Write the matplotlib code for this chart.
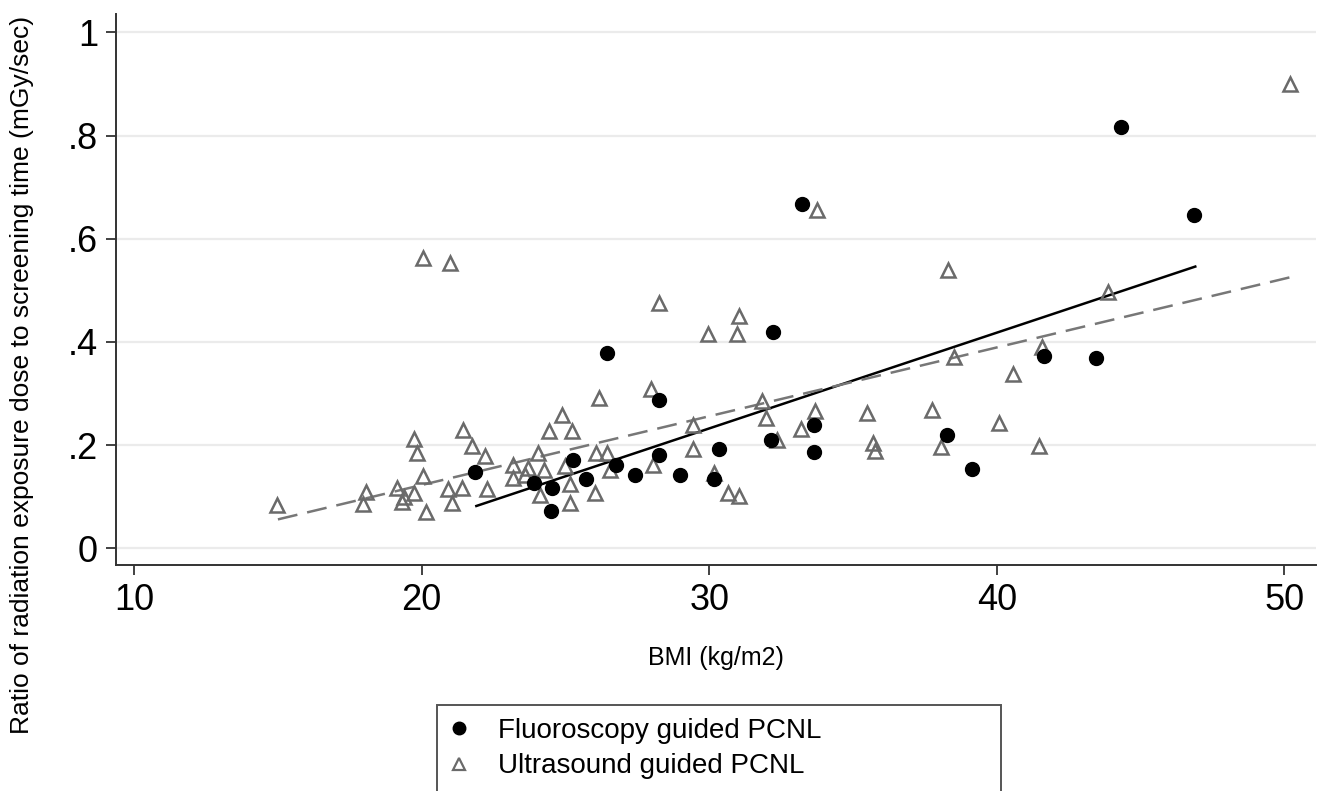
import matplotlib
matplotlib.use("Agg")
import matplotlib.pyplot as plt
from matplotlib.patches import Rectangle
from matplotlib.lines import Line2D

plt.rcParams['font.family'] = ['Liberation Sans', 'DejaVu Sans']

# fluoroscopy guided PCNL (filled circles)
fl_bmi = [21.84, 23.89, 24.53, 24.49, 25.26, 25.72, 26.44, 26.76, 27.43, 28.24,
          28.24, 28.97, 30.16, 30.35, 32.14, 32.21, 33.22, 33.63, 33.63, 38.28,
          39.13, 41.65, 43.46, 44.32, 46.85]
fl_ratio = [0.147, 0.126, 0.116, 0.072, 0.172, 0.134, 0.379, 0.162, 0.142, 0.287,
            0.180, 0.142, 0.135, 0.192, 0.210, 0.420, 0.667, 0.239, 0.187, 0.220,
            0.154, 0.373, 0.369, 0.816, 0.646]

# ultrasound guided PCNL (hollow triangles)
us_bmi = [14.96, 17.95, 18.07, 19.13, 19.31, 19.39, 19.74, 19.74, 19.85, 20.06,
          20.16, 20.06, 20.99, 20.93, 21.05, 21.39, 21.45, 21.74, 22.21, 22.27,
          23.19, 23.19, 23.60, 23.71, 24.06, 24.24, 24.12, 24.41, 24.87, 25.24,
          24.99, 25.17, 25.17, 26.03, 26.07, 26.46, 26.56, 26.18, 27.97, 28.26,
          28.03, 29.43, 29.42, 29.95, 30.18, 30.65, 31.04, 30.96, 31.04, 31.85,
          31.96, 32.36, 33.20, 33.66, 33.76, 35.48, 35.68, 35.77, 37.76, 38.07,
          38.29, 38.50, 40.07, 40.56, 41.46, 41.57, 43.85, 50.18]
us_ratio = [0.084, 0.086, 0.110, 0.116, 0.090, 0.100, 0.108, 0.211, 0.185, 0.140,
            0.071, 0.562, 0.553, 0.114, 0.087, 0.116, 0.229, 0.198, 0.178, 0.114,
            0.161, 0.136, 0.142, 0.155, 0.185, 0.152, 0.103, 0.228, 0.259, 0.228,
            0.160, 0.125, 0.087, 0.107, 0.185, 0.185, 0.151, 0.291, 0.308, 0.476,
            0.161, 0.192, 0.238, 0.415, 0.145, 0.108, 0.101, 0.415, 0.450, 0.285,
            0.252, 0.210, 0.231, 0.267, 0.656, 0.262, 0.205, 0.189, 0.268, 0.196,
            0.539, 0.371, 0.242, 0.338, 0.198, 0.391, 0.497, 0.900]

# fitted lines (end points)
fl_fit_x = [21.9, 46.9]
fl_fit_y = [0.082, 0.546]
us_fit_x = [15.0, 50.18]
us_fit_y = [0.056, 0.525]

yticks = [0, 0.2, 0.4, 0.6, 0.8, 1.0]
ytick_labels = ['0', '.2', '.4', '.6', '.8', '1']
xticks = [10, 20, 30, 40, 50]

fig = plt.figure(figsize=(13.26, 7.91), dpi=100)
ax = fig.add_axes([0.0875, 0.2857, 0.905, 0.6966])

for y in yticks:
    ax.axhline(y, color='#ebebeb', lw=1.6, zorder=0)

ax.plot(fl_fit_x, fl_fit_y, color='black', lw=1.8, zorder=3)
ax.plot(us_fit_x, us_fit_y, color='#777777', lw=1.8, dashes=(8, 4), zorder=3)

ax.plot(us_bmi, us_ratio, linestyle='none', marker='^', markersize=10,
        markerfacecolor='none', markeredgecolor='#6a6a6a', markeredgewidth=1.8, zorder=4)
ax.plot(fl_bmi, fl_ratio, linestyle='none', marker='o', markersize=10,
        color='black', zorder=5)

ax.set_xlim(9.37, 51.1)
ax.set_ylim(-0.0324, 1.0355)
ax.set_xticks(xticks)
ax.set_xticklabels([str(x) for x in xticks], fontsize=26)
ax.set_yticks(yticks)
ax.set_yticklabels(ytick_labels, fontsize=26)
ax.tick_params(axis='both', length=7, width=1.3, color='#333333', pad=6)

for side in ['top', 'right']:
    ax.spines[side].set_visible(False)
for side in ['left', 'bottom']:
    ax.spines[side].set_color('#333333')
    ax.spines[side].set_linewidth(1.4)

ax.set_xlabel('BMI (kg/m2)', fontsize=18, labelpad=20)
fig.text(22 / 1326, 1 - 375 / 791,
         'Ratio of radiation exposure dose to screening time (mGy/sec)',
         rotation=90, ha='center', va='center', fontsize=19)

# legend box, cut by the bottom edge as in the original
box = Rectangle((437 / 1326, -0.05), (1001 - 437) / 1326, 0.05 + 1 - 705 / 791,
                transform=fig.transFigure, fill=False, edgecolor='#555555', lw=1.4)
fig.patches.append(box)

handles = [
    Line2D([], [], linestyle='none', marker='o', markersize=9, color='black'),
    Line2D([], [], linestyle='none', marker='^', markersize=9, markerfacecolor='none',
           markeredgecolor='#6a6a6a', markeredgewidth=1.6),
]
fig.legend(handles, ['Fluoroscopy guided PCNL', 'Ultrasound guided PCNL'],
           loc='upper left', bbox_to_anchor=(440 / 1326, 1 - 712 / 791),
           frameon=False, fontsize=20, handlelength=1.0, handletextpad=0.9,
           labelspacing=0.35, borderaxespad=0, borderpad=0.2)

fig.savefig('out.png', dpi=100)
